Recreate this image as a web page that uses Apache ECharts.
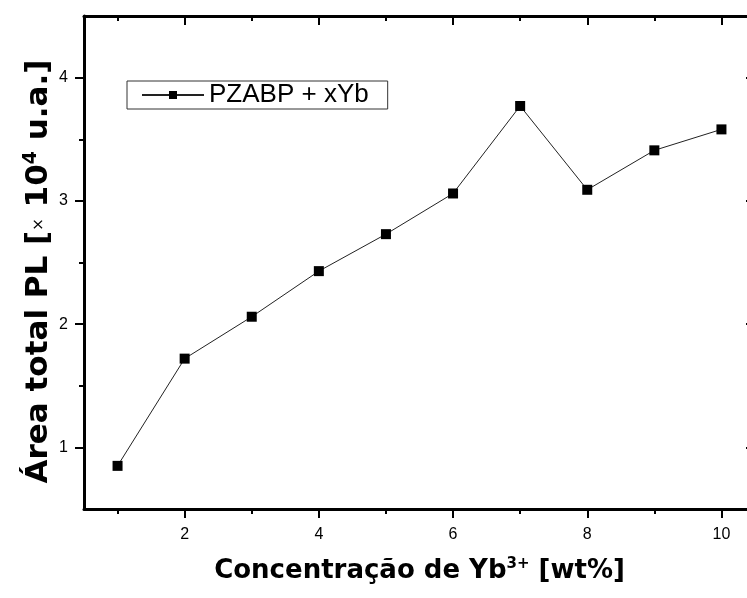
<!DOCTYPE html>
<html>
<head>
<meta charset="utf-8">
<script src="https://cdn.jsdelivr.net/npm/echarts@6/dist/echarts.min.js"></script>
<style>html,body{margin:0;padding:0;background:#fff;}#c{width:747px;height:598px;}</style>
</head>
<body>
<div id="c"></div>
<script>
const xValues = [1, 2, 3, 4, 5, 6, 7, 8, 9, 10];
const yValues = [0.85, 1.72, 2.06, 2.43, 2.73, 3.06, 3.77, 3.09, 3.41, 3.58];
const seriesName = 'PZABP + xYb';
const xMajorTicks = [2, 4, 6, 8, 10];
const xMinorTicks = [1, 3, 5, 7, 9];
const yMajorTicks = [1, 2, 3, 4];
const yMinorTicks = [1.5, 2.5, 3.5];
const xRange = [0.5, 10.5];
const yRange = [0.5, 4.5];

const chart = echarts.init(document.getElementById('c'), null, {renderer: 'canvas'});
const tickFont = {fontFamily: 'Liberation Sans, Arial, sans-serif', fontSize: 16, color: '#000'};

function xAx(pos, ticks, len, inside, showLine, showLabel, extra) {
  return Object.assign({
    type: 'value', position: pos, min: xRange[0], max: xRange[1],
    axisLine: {show: showLine, lineStyle: {color: '#000', width: 3}},
    axisTick: {show: true, customValues: ticks, inside: inside, length: len, lineStyle: {color: '#000', width: 2}},
    axisLabel: {show: showLabel, customValues: ticks, margin: 18, ...tickFont},
    splitLine: {show: false}
  }, extra || {});
}
function yAx(pos, ticks, len, inside, showLine, showLabel, extra) {
  return Object.assign({
    type: 'value', position: pos, min: yRange[0], max: yRange[1],
    axisLine: {show: showLine, lineStyle: {color: '#000', width: 3}},
    axisTick: {show: true, customValues: ticks, inside: inside, length: len, lineStyle: {color: '#000', width: 2}},
    axisLabel: {show: showLabel, customValues: ticks, margin: 16, ...tickFont},
    splitLine: {show: false}
  }, extra || {});
}

const option = {
  backgroundColor: '#fff',
  animation: false,
  grid: {left: 84, top: 16, width: 671, height: 493, containLabel: false, outerBoundsMode: 'none'},
  legend: {
    left: 127, top: 81,
    orient: 'horizontal',
    data: [seriesName],
    borderColor: '#333', borderWidth: 1, borderRadius: 0,
    padding: [1, 19, 1, 14],
    itemWidth: 62, itemHeight: 10,
    textStyle: {fontFamily: 'Liberation Sans, Arial, sans-serif', fontSize: 26, lineHeight: 24, color: '#000'}
  },
  xAxis: [
    xAx('bottom', xMajorTicks, 9, false, true, true, {
      name: '{b|Concentração de Yb}{sup|3+}{b| [wt%]}',
      nameLocation: 'middle', nameGap: 47, nameMoveOverlap: false,
      nameTextStyle: {
        rich: {
          b: {fontFamily: 'DejaVu Sans', fontWeight: 'bold', fontSize: 26, color: '#000', lineHeight: 30},
          sup: {fontFamily: 'DejaVu Sans', fontWeight: 'bold', fontSize: 15, color: '#000', lineHeight: 30, padding: [0, 0, 14, 0]}
        }
      }
    }),
    xAx('bottom', xMinorTicks, 5, false, false, false),
    xAx('top', xMajorTicks, 9, true, true, false),
    xAx('top', xMinorTicks, 5, true, false, false)
  ],
  yAxis: [
    yAx('left', yMajorTicks, 9, false, true, true, {
      name: '{b|Área total PL [}{s|×}{b| 10}{sup|4}{b| u.a.]}',
      nameLocation: 'middle', nameGap: 28, nameRotate: 90, nameMoveOverlap: false,
      nameTextStyle: {
        padding: [0, 18, 0, 0],
        rich: {
          b: {fontFamily: 'DejaVu Sans', fontWeight: 'bold', fontSize: 31, color: '#000', lineHeight: 34},
          s: {fontFamily: 'DejaVu Sans', fontSize: 15, color: '#000', lineHeight: 34},
          sup: {fontFamily: 'DejaVu Sans', fontWeight: 'bold', fontSize: 19, color: '#000', lineHeight: 34, padding: [0, 0, 16, 0]}
        }
      }
    }),
    yAx('left', yMinorTicks, 5, false, false, false),
    yAx('right', yMajorTicks, 9, true, true, false),
    yAx('right', yMinorTicks, 5, true, false, false)
  ],
  series: [{
    name: seriesName,
    type: 'line',
    xAxisIndex: 0, yAxisIndex: 0,
    data: xValues.map((x, i) => [x, yValues[i]]),
    symbol: 'rect', symbolSize: 10,
    lineStyle: {color: '#222', width: 1},
    itemStyle: {color: '#000'}
  }]
};
chart.setOption(option);
</script>
</body>
</html>
